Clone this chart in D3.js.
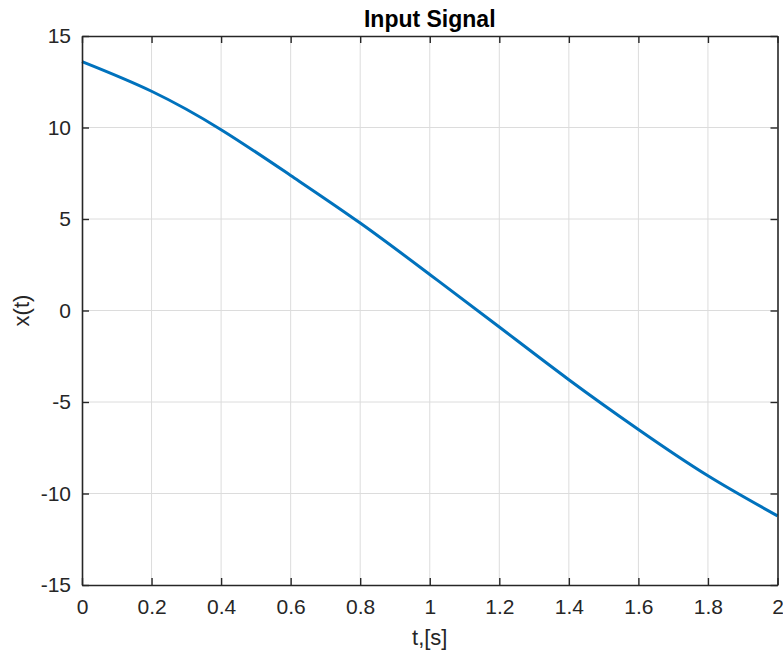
<!DOCTYPE html>
<html>
<head>
<meta charset="utf-8">
<title>Input Signal</title>
<script src="https://d3js.org/d3.v7.min.js"></script>
<style>
  body { margin: 0; background: #fff; }
  svg { display: block; font-family: Arial, "Liberation Sans", Helvetica, sans-serif; }
  .grid line { stroke: #dcdcdc; stroke-width: 1; }
  .axis path, .axis line { stroke: #262626; }
  .axis line { stroke-width: 1.4; }
  .axis text { fill: #262626; font-size: 21px; }
</style>
</head>
<body>
<svg width="783" height="655"></svg>
<script>

// signal samples
var tValues = [0, 0.2, 0.4, 0.6, 0.8, 1.0, 1.2, 1.4, 1.6, 1.8, 2.0];
var xValues = [13.6, 11.98, 9.88, 7.38, 4.78, 1.97, -0.9, -3.78, -6.5, -9.03, -11.22];

var xTicks = [0, 0.2, 0.4, 0.6, 0.8, 1, 1.2, 1.4, 1.6, 1.8, 2];
var yTicks = [-15, -10, -5, 0, 5, 10, 15];

var svg = d3.select("svg");
var pLeft = 82, pRight = 777.5, pTop = 36, pBottom = 585;

var x = d3.scaleLinear().domain([0, 2]).range([pLeft, pRight]);
var y = d3.scaleLinear().domain([-15, 15]).range([pBottom, pTop]);

// grid
var grid = svg.append("g").attr("class", "grid");
grid.selectAll("line.v")
    .data(xTicks.slice(1, -1))
    .enter().append("line").attr("class", "v")
      .attr("x1", function(d) { return x(d); })
      .attr("x2", function(d) { return x(d); })
      .attr("y1", pTop).attr("y2", pBottom);
grid.selectAll("line.h")
    .data(yTicks.slice(1, -1))
    .enter().append("line").attr("class", "h")
      .attr("y1", function(d) { return y(d); })
      .attr("y2", function(d) { return y(d); })
      .attr("x1", pLeft).attr("x2", pRight);

// signal
var data = tValues.map(function(t, i) { return [t, xValues[i]]; });
var line = d3.line()
    .x(function(d) { return x(d[0]); })
    .y(function(d) { return y(d[1]); })
    .curve(d3.curveNatural);

svg.append("path")
    .datum(data)
    .attr("fill", "none")
    .attr("stroke", "#0072BD")
    .attr("stroke-width", 3)
    .attr("d", line);

// axes (ticks inward, box on)
var fmt = function(d) { return String(d); };
svg.append("g").attr("class", "axis")
    .attr("transform", "translate(0," + pBottom + ")")
    .call(d3.axisBottom(x).tickValues(xTicks).tickFormat(fmt).tickSizeInner(-7).tickSizeOuter(0).tickPadding(14))
    .call(function(g) { g.select(".domain").attr("stroke-width", 1.6); });
svg.append("g").attr("class", "axis")
    .attr("transform", "translate(" + pLeft + ",0)")
    .call(d3.axisLeft(y).tickValues(yTicks).tickFormat(fmt).tickSizeInner(-7).tickSizeOuter(0).tickPadding(11))
    .call(function(g) { g.select(".domain").attr("stroke-width", 1.6); });
svg.append("g").attr("class", "axis")
    .attr("transform", "translate(0," + pTop + ")")
    .call(d3.axisTop(x).tickValues(xTicks).tickFormat("").tickSizeInner(-7).tickSizeOuter(0))
    .call(function(g) { g.select(".domain").attr("stroke-width", 1.6); });
svg.append("g").attr("class", "axis")
    .attr("transform", "translate(" + pRight + ",0)")
    .call(d3.axisRight(y).tickValues(yTicks).tickFormat("").tickSizeInner(-7).tickSizeOuter(0))
    .call(function(g) { g.select(".domain").attr("stroke-width", 1.6); });

// labels
svg.append("text")
    .attr("x", (pLeft + pRight) / 2).attr("y", 27)
    .attr("text-anchor", "middle")
    .attr("font-size", 23).attr("font-weight", "bold")
    .attr("fill", "#000")
    .text("Input Signal");

svg.append("text")
    .attr("x", (pLeft + pRight) / 2).attr("y", 645)
    .attr("text-anchor", "middle")
    .attr("font-size", 22)
    .attr("fill", "#262626")
    .text("t,[s]");

svg.append("text")
    .attr("transform", "translate(29," + (pTop + pBottom) / 2 + ") rotate(-90)")
    .attr("text-anchor", "middle")
    .attr("font-size", 22)
    .attr("fill", "#262626")
    .text("x(t)");

</script>
</body>
</html>
